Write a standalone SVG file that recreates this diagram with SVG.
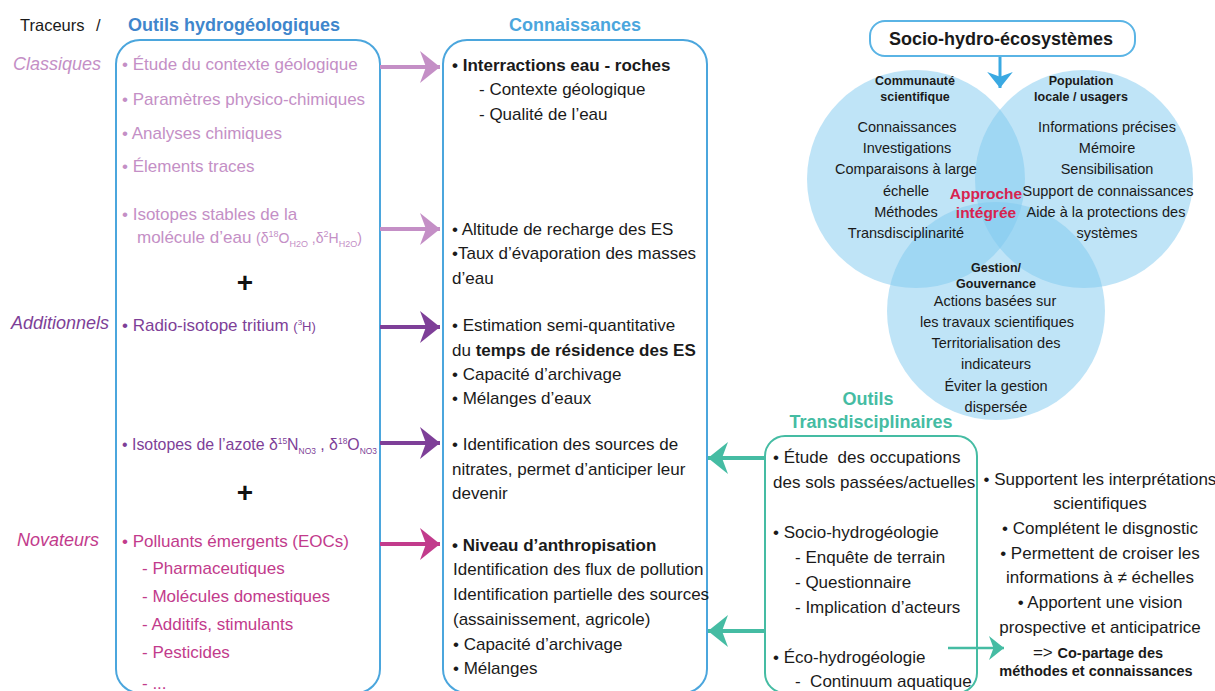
<svg xmlns="http://www.w3.org/2000/svg" width="1215" height="691" viewBox="0 0 1215 691">
<defs>
<style>
text{font-family:"Liberation Sans",Arial,sans-serif;font-size:17px;fill:#1a1a1a}
.lp{fill:#c48fc6}.dp{fill:#7e3f98}.mg{fill:#c23b8c}
.hd{font-weight:bold;font-size:18px}
.blue{fill:#3f86cc}.sky{fill:#4ba6dd}.teal{fill:#45bca3}
.it{font-style:italic;font-size:18px}
.b{font-weight:bold}
.c{text-anchor:middle}
.v{font-size:14.5px;text-anchor:middle}
.vb{font-size:12.5px;font-weight:bold;text-anchor:middle}
.plus{font-size:28px;font-weight:bold;text-anchor:middle;fill:#111}
.red{font-size:15.5px;font-weight:bold;text-anchor:middle;fill:#d8234f}
.sm{font-size:14.5px}
.box{fill:none;stroke:#4ba6dd;stroke-width:2}
.tbox{fill:none;stroke:#45bca3;stroke-width:2}
.circ{fill:#7fcaf0;fill-opacity:0.5}
.sh{fill:none;stroke-width:4}
</style>
<marker id="mLp" viewBox="0 0 20 32" refX="20" refY="16" markerWidth="20" markerHeight="32" markerUnits="userSpaceOnUse" orient="auto"><path d="M0,0 L20,16 L0,32 L6,16 Z" fill="#c48fc6"/></marker>
<marker id="mDp" viewBox="0 0 20 32" refX="20" refY="16" markerWidth="20" markerHeight="32" markerUnits="userSpaceOnUse" orient="auto"><path d="M0,0 L20,16 L0,32 L6,16 Z" fill="#7e3f98"/></marker>
<marker id="mMg" viewBox="0 0 20 32" refX="20" refY="16" markerWidth="20" markerHeight="32" markerUnits="userSpaceOnUse" orient="auto"><path d="M0,0 L20,16 L0,32 L6,16 Z" fill="#c23b8c"/></marker>
<marker id="mTl" viewBox="0 0 20 32" refX="20" refY="16" markerWidth="20" markerHeight="32" markerUnits="userSpaceOnUse" orient="auto"><path d="M0,0 L20,16 L0,32 L6,16 Z" fill="#45bca3"/></marker>
<marker id="mTs" viewBox="0 0 20 32" refX="20" refY="16" markerWidth="16" markerHeight="24" markerUnits="userSpaceOnUse" orient="auto"><path d="M0,0 L20,16 L0,32 L6,16 Z" fill="#45bca3"/></marker>
<marker id="mBl" viewBox="0 0 20 32" refX="20" refY="16" markerWidth="16" markerHeight="26" markerUnits="userSpaceOnUse" orient="auto"><path d="M0,0 L20,16 L0,32 L6,16 Z" fill="#3aa9e2"/></marker>
</defs>

<g id="headers">
<text x="20" y="31" style="font-size:16.5px">Traceurs</text>
<text x="96" y="31" style="font-size:16.5px">/</text>
<text x="128" y="31" class="hd blue">Outils hydrogéologiques</text>
<text x="575" y="31" class="hd sky c">Connaissances</text>
</g>

<g id="category-labels">
<text x="13" y="70" class="it lp">Classiques</text>
<text x="11" y="329" class="it dp">Additionnels</text>
<text x="17" y="546" class="it mg">Novateurs</text>
</g>

<g id="outils-hydro">
<rect x="116" y="40" width="264" height="653" rx="24" class="box"/>
<text x="122" y="70" class="lp">• Étude du contexte géologique</text>
<text x="122" y="105" class="lp">• Paramètres physico-chimiques</text>
<text x="122" y="139" class="lp">• Analyses chimiques</text>
<text x="122" y="172" class="lp">• Élements traces</text>
<text x="122" y="220" class="lp">• Isotopes stables de la</text>
<text x="137" y="243" class="lp">molécule d’eau <tspan font-size="14">(δ</tspan><tspan font-size="9" dy="-6">18</tspan><tspan font-size="14" dy="6">O</tspan><tspan font-size="9" dy="4">H2O</tspan><tspan font-size="14" dy="-4"> ,δ</tspan><tspan font-size="9" dy="-6">2</tspan><tspan font-size="14" dy="6">H</tspan><tspan font-size="9" dy="4">H2O</tspan><tspan font-size="14" dy="-4">)</tspan></text>
<text x="245" y="292" class="plus">+</text>
<text x="122" y="331" class="dp">• Radio-isotope tritium <tspan font-size="13">(</tspan><tspan font-size="8" dy="-6">3</tspan><tspan font-size="13" dy="6">H)</tspan></text>
<text x="122" y="450" class="dp" textLength="255" lengthAdjust="spacingAndGlyphs">• Isotopes de l’azote δ<tspan font-size="9" dy="-6">15</tspan><tspan dy="6">N</tspan><tspan font-size="9" dy="4">NO3</tspan><tspan dy="-4"> , δ</tspan><tspan font-size="9" dy="-6">18</tspan><tspan dy="6">O</tspan><tspan font-size="9" dy="4">NO3</tspan></text>
<text x="245" y="502" class="plus">+</text>
<text x="122" y="547" class="mg">• Polluants émergents (EOCs)</text>
<text x="142" y="574" class="mg">- Pharmaceutiques</text>
<text x="142" y="602" class="mg">- Molécules domestiques</text>
<text x="142" y="630" class="mg">- Additifs, stimulants</text>
<text x="142" y="658" class="mg">- Pesticides</text>
<text x="142" y="689" class="mg">- ...</text>
</g>

<g id="connaissances">
<rect x="443" y="40" width="264" height="653" rx="24" class="box"/>
<text x="452" y="71" class="b">• Interractions eau - roches</text>
<text x="479" y="95">- Contexte géologique</text>
<text x="479" y="120">- Qualité de l’eau</text>
<text x="452" y="235">• Altitude de recharge des ES</text>
<text x="452" y="259">•Taux d’évaporation des masses</text>
<text x="452" y="284">d’eau</text>
<text x="452" y="331">• Estimation semi-quantitative</text>
<text x="452" y="356">du <tspan class="b">temps de résidence des ES</tspan></text>
<text x="452" y="380">• Capacité d’archivage</text>
<text x="452" y="404">• Mélanges d’eaux</text>
<text x="452" y="450">• Identification des sources de</text>
<text x="452" y="475">nitrates, permet d’anticiper leur</text>
<text x="452" y="499">devenir</text>
<text x="452" y="551" class="b">• Niveau d’anthropisation</text>
<text x="453" y="575">Identification des flux de pollution</text>
<text x="453" y="600">Identification partielle des sources</text>
<text x="453" y="625">(assainissement, agricole)</text>
<text x="453" y="650">• Capacité d’archivage</text>
<text x="453" y="674">• Mélanges</text>
</g>

<g id="socio-hydro-ecosystemes">
<rect x="870" y="21" width="265" height="35" rx="15" fill="#fff" stroke="#5ab4e5" stroke-width="2"/>
<text x="1001" y="45" class="hd c">Socio-hydro-écosystèmes</text>
</g>

<g id="venn">
<circle cx="916" cy="179" r="109" class="circ"/>
<circle cx="1084" cy="179" r="109" class="circ"/>
<circle cx="996" cy="311" r="109" class="circ"/>
</g>

<g id="communaute-scientifique">
<text x="915" y="85" class="vb">Communauté</text>
<text x="915" y="101" class="vb">scientifique</text>
<text x="907" y="132" class="v">Connaissances</text>
<text x="907" y="153" class="v">Investigations</text>
<text x="906" y="174" class="v">Comparaisons à large</text>
<text x="906" y="196" class="v">échelle</text>
<text x="906" y="217" class="v">Méthodes</text>
<text x="906" y="238" class="v">Transdisciplinarité</text>
</g>

<g id="population-locale">
<text x="1081" y="85" class="vb">Population</text>
<text x="1081" y="101" class="vb">locale / usagers</text>
<text x="1107" y="132" class="v">Informations précises</text>
<text x="1107" y="153" class="v">Mémoire</text>
<text x="1107" y="174" class="v">Sensibilisation</text>
<text x="1108" y="196" class="v">Support de connaissances</text>
<text x="1106" y="217" class="v">Aide à la protections des</text>
<text x="1107" y="238" class="v">systèmes</text>
</g>

<g id="approche-integree">
<text x="986" y="199" class="red">Approche</text>
<text x="986" y="218" class="red">intégrée</text>
</g>

<g id="gestion-gouvernance">
<text x="996" y="272" class="vb">Gestion/</text>
<text x="996" y="288" class="vb">Gouvernance</text>
<text x="995" y="306" class="v">Actions basées sur</text>
<text x="997" y="327" class="v">les travaux scientifiques</text>
<text x="996" y="348" class="v">Territorialisation des</text>
<text x="996" y="369" class="v">indicateurs</text>
<text x="996" y="391" class="v">Éviter la gestion</text>
<text x="996" y="412" class="v">dispersée</text>
</g>

<g id="outils-transdisciplinaires">
<text x="868" y="405" class="hd teal c">Outils</text>
<text x="871" y="428" class="hd teal c">Transdisciplinaires</text>
<rect x="765" y="436" width="212" height="257" rx="20" class="tbox"/>
<text x="773" y="463" xml:space="preserve">• Étude  des occupations</text>
<text x="773" y="488">des sols passées/actuelles</text>
<text x="773" y="538">• Socio-hydrogéologie</text>
<text x="795" y="563">- Enquête de terrain</text>
<text x="795" y="588">- Questionnaire</text>
<text x="795" y="613">- Implication d’acteurs</text>
<text x="773" y="663">• Éco-hydrogéologie</text>
<text x="795" y="687" xml:space="preserve">-  Continuum aquatique</text>
</g>

<g id="apports">
<text x="1100" y="485" class="c">• Supportent les interprétations</text>
<text x="1100" y="509" class="c">scientifiques</text>
<text x="1100" y="534" class="c">• Complétent le disgnostic</text>
<text x="1100" y="559" class="c">• Permettent de croiser les</text>
<text x="1100" y="583" class="c">informations à ≠ échelles</text>
<text x="1100" y="608" class="c">• Apportent une vision</text>
<text x="1100" y="633" class="c">prospective et anticipatrice</text>
<text x="1098" y="658" class="c">=&gt; <tspan class="b sm">Co-partage des</tspan></text>
<text x="1096" y="676" class="b c sm">méthodes et connaissances</text>
</g>

<g id="connectors">
<line x1="380" y1="67" x2="440" y2="67" class="sh" stroke="#c48fc6" marker-end="url(#mLp)"/>
<line x1="380" y1="229" x2="440" y2="229" class="sh" stroke="#c48fc6" marker-end="url(#mLp)"/>
<line x1="380" y1="327" x2="440" y2="327" class="sh" stroke="#7e3f98" marker-end="url(#mDp)"/>
<line x1="380" y1="443" x2="440" y2="443" class="sh" stroke="#7e3f98" marker-end="url(#mDp)"/>
<line x1="380" y1="544" x2="440" y2="544" class="sh" stroke="#c23b8c" marker-end="url(#mMg)"/>
<line x1="765" y1="458" x2="708" y2="458" class="sh" stroke="#45bca3" marker-end="url(#mTl)"/>
<line x1="765" y1="631" x2="708" y2="631" class="sh" stroke="#45bca3" marker-end="url(#mTl)"/>
<line x1="948" y1="648" x2="1004" y2="648" stroke="#45bca3" stroke-width="2.5" marker-end="url(#mTs)"/>
<line x1="1000" y1="57" x2="1000" y2="88" stroke="#3aa9e2" stroke-width="3" marker-end="url(#mBl)"/>
</g>
</svg>
